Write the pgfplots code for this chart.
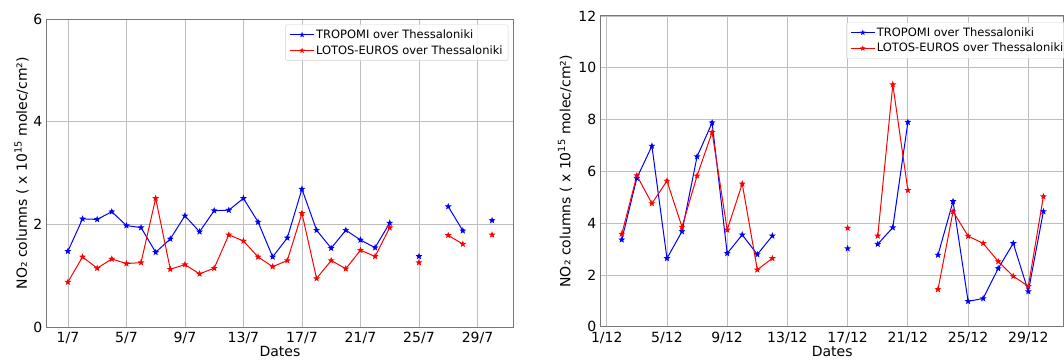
\documentclass[border=0pt]{standalone}
\usepackage{fontspec}
\setmainfont{DejaVu Sans}
\usepackage{pgfplots}
\usepackage{pgfplotstable}
\pgfplotsset{compat=1.18}

\pgfdeclareplotmark{fstar}{%
  \pgfpathmoveto{\pgfpointpolar{90}{\pgfplotmarksize}}%
  \pgfpathlineto{\pgfpointpolar{126}{0.42\pgfplotmarksize}}%
  \pgfpathlineto{\pgfpointpolar{162}{\pgfplotmarksize}}%
  \pgfpathlineto{\pgfpointpolar{198}{0.42\pgfplotmarksize}}%
  \pgfpathlineto{\pgfpointpolar{234}{\pgfplotmarksize}}%
  \pgfpathlineto{\pgfpointpolar{270}{0.42\pgfplotmarksize}}%
  \pgfpathlineto{\pgfpointpolar{306}{\pgfplotmarksize}}%
  \pgfpathlineto{\pgfpointpolar{342}{0.42\pgfplotmarksize}}%
  \pgfpathlineto{\pgfpointpolar{18}{\pgfplotmarksize}}%
  \pgfpathlineto{\pgfpointpolar{54}{0.42\pgfplotmarksize}}%
  \pgfpathclose
  \pgfusepathqfillstroke
}

\pgfplotstableread{
day T L
1 1.48 0.88
2 2.11 1.37
3 2.10 1.15
4 2.25 1.33
5 1.98 1.24
6 1.94 1.26
7 1.46 2.51
8 1.72 1.13
9 2.17 1.22
10 1.86 1.04
11 2.27 1.15
12 2.28 1.80
13 2.51 1.68
14 2.05 1.37
15 1.37 1.18
16 1.74 1.30
17 2.69 2.22
18 1.89 0.95
19 1.54 1.30
20 1.89 1.14
21 1.70 1.50
22 1.55 1.38
23 2.03 1.94
24 nan nan
25 1.38 1.26
26 nan nan
27 2.35 1.79
28 1.88 1.62
29 nan nan
30 2.08 1.80
}\julytable

\pgfplotstableread{
day T L
2 3.36 3.58
3 5.74 5.84
4 6.98 4.76
5 2.64 5.63
6 3.68 3.85
7 6.57 5.83
8 7.88 7.51
9 2.83 3.74
10 3.55 5.52
11 2.79 2.20
12 3.51 2.64
13 nan nan
17 3.02 3.81
18 nan nan
19 3.19 3.51
20 3.83 9.35
21 7.90 5.27
22 nan nan
23 2.77 1.44
24 4.84 4.45
25 0.98 3.50
26 1.09 3.22
27 2.25 2.52
28 3.22 1.95
29 1.36 1.56
30 4.45 5.03
}\dectable

\definecolor{gridc}{RGB}{190,190,190}
\definecolor{spinec}{RGB}{120,120,120}
\definecolor{legc}{RGB}{210,210,210}

\pgfplotsset{
  mystyle/.style={
    scale only axis,
    anchor=south west,
    axis line style={spinec, line width=1pt},
    grid=major,
    major grid style={gridc, line width=0.8pt},
    major tick length=0pt,
    unbounded coords=jump,
    /pgf/number format/assume math mode=true,
    ticklabel style={font=\fontsize{14}{16}\selectfont},
    xticklabel style={anchor=north, inner sep=1pt, yshift=-4pt},
    yticklabel style={xshift=-1pt},
    label style={font=\fontsize{14}{16}\selectfont},
    xlabel={Dates},
    xlabel style={at={(axis description cs:0.5,0)}, anchor=north, yshift=-19pt, inner sep=0pt},
    ylabel={NO₂ columns ( x 10\textsuperscript{15} molec/cm²)},
    legend cell align=left,
    legend image code/.code={\draw[mark repeat=2,mark phase=2, mark size=1.6pt] plot coordinates {(0pt,0pt)(12pt,0pt)(24pt,0pt)};},
    legend style={font=\fontsize{11.5}{13}\selectfont, draw=legc, rounded corners=2pt,
      fill=white, fill opacity=0.8, text opacity=1, inner xsep=4pt, inner ysep=3.5pt,
      row sep=2.5pt, nodes={inner sep=1.5pt}},
    every axis plot/.append style={line width=1pt, mark=fstar, mark size=2.2pt},
  }
}

\begin{document}
\begin{tikzpicture}
\begin{axis}[mystyle,
  at={(46.7pt,31.7pt)}, width=466.6pt, height=308.3pt,
  xmin=-0.45, xmax=31.45, ymin=0, ymax=6,
  xtick={1,5,9,13,17,21,25,29},
  xticklabels={1/7,5/7,9/7,13/7,17/7,21/7,25/7,29/7},
  ytick={0,2,4,6},
  ylabel style={at={(axis description cs:-0.054,0.5)}, anchor=center, rotate=0},
  legend style={at={(axis description cs:1,1)}, anchor=north east, xshift=-5pt, yshift=-5.5pt},
]
\addplot[blue] table[x=day,y=T] {\julytable};
\addlegendentry{TROPOMI over Thessaloniki}
\addplot[red] table[x=day,y=L] {\julytable};
\addlegendentry{LOTOS-EUROS over Thessaloniki}
\end{axis}

\begin{axis}[mystyle,
  at={(600.7pt,32.3pt)}, width=463pt, height=310.7pt,
  xmin=0.6, xmax=31.35, ymin=0, ymax=12,
  xtick={1,5,9,13,17,21,25,29},
  xticklabels={1/12,5/12,9/12,13/12,17/12,21/12,25/12,29/12},
  ytick={0,2,4,6,8,10,12},
  ylabel style={at={(axis description cs:-0.077,0.5)}, anchor=center, rotate=0},
  legend style={at={(axis description cs:0.53,1)}, anchor=north west, yshift=-6.3pt},
]
\addplot[blue] table[x=day,y=T] {\dectable};
\addlegendentry{TROPOMI over Thessaloniki}
\addplot[red] table[x=day,y=L] {\dectable};
\addlegendentry{LOTOS-EUROS over Thessaloniki}
\end{axis}
\pgfresetboundingbox
\path[use as bounding box] (0pt,0pt) rectangle (1064pt,359pt);
\end{tikzpicture}
\end{document}
